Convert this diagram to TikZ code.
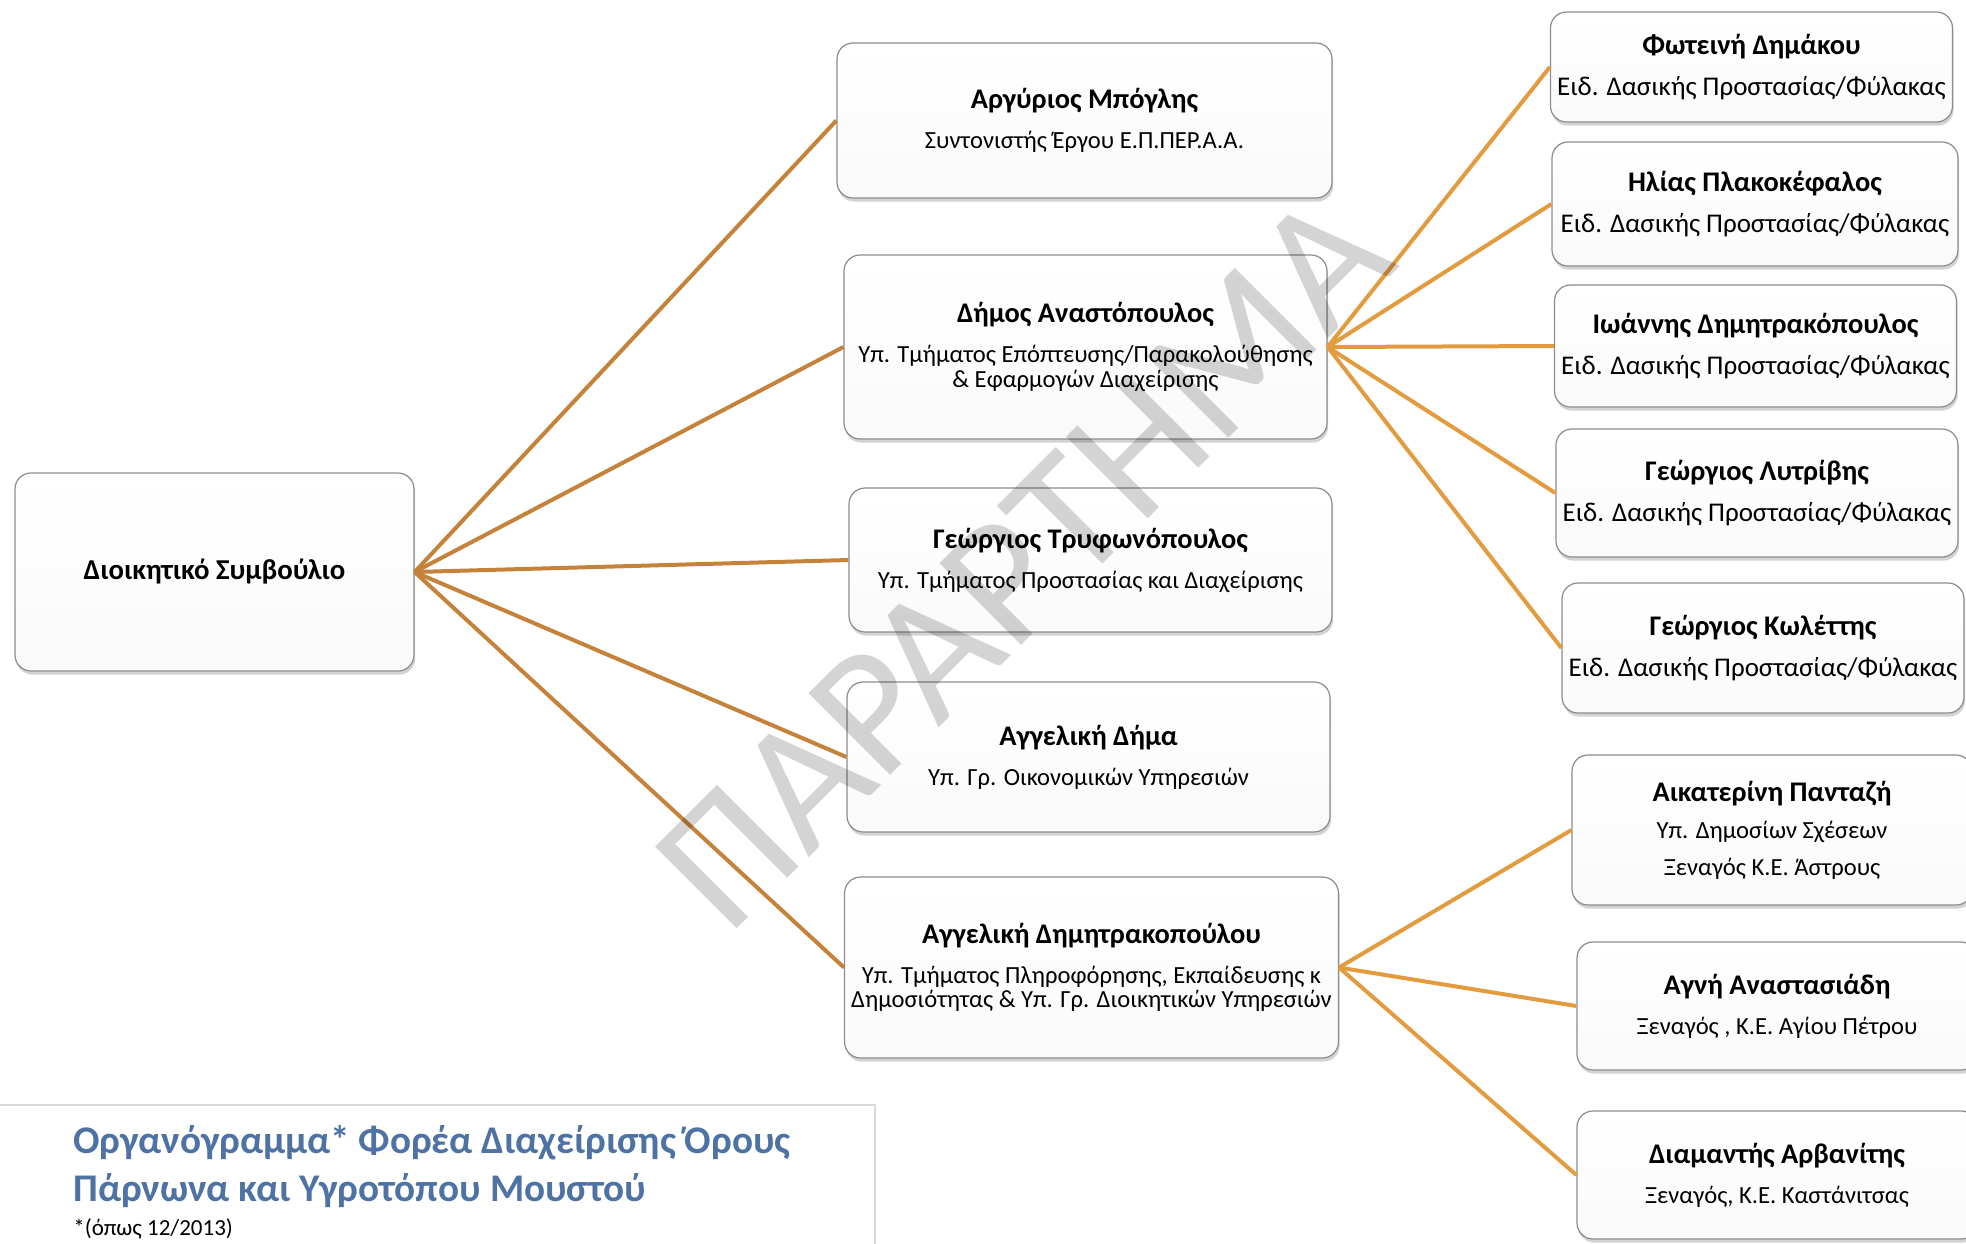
\documentclass[tikz,border=0pt]{standalone}
\usepackage{fontspec}
\setmainfont{Carlito}
\usetikzlibrary{shapes,shadows}
\definecolor{trunk}{HTML}{C4823A}
\definecolor{branch}{HTML}{E39B40}
\definecolor{titleblue}{HTML}{4E72A4}
\definecolor{boxgray}{HTML}{8C8C8C}
\definecolor{stampgray}{HTML}{D4D4D4}
\newcommand{\who}[1]{{\bfseries\fontsize{14.2}{17}\selectfont #1}}
\tikzstyle{person} = [rectangle, draw=boxgray, line width=0.6pt, top color=white,
    bottom color=black!2, rounded corners=8pt, align=center,
    font=\fontsize{12.3}{15}\selectfont,
    drop shadow={shadow xshift=0.6pt, shadow yshift=-1.8pt, opacity=0.35}]
\tikzstyle{guard} = [person, font=\fontsize{13.5}{16}\selectfont]
\tikzstyle{board} = [person, font=\bfseries\fontsize{14.4}{17}\selectfont]
\tikzstyle{trunkline} = [draw=trunk, line width=2pt]
\tikzstyle{branchline} = [draw=branch, line width=2pt]
\tikzstyle{heading} = [anchor=base west, inner sep=0pt, text=titleblue,
    font=\bfseries\fontsize{19.6}{24}\selectfont]

\begin{document}
\begin{tikzpicture}[x=0.5pt, y=-0.5pt]
 \useasboundingbox (0,0) rectangle (1966,1243);
 \node[board, minimum width=199.5pt, minimum height=99pt] (board) at (214.5,572) {Διοικητικό Συμβούλιο};
 % second level
 \node[person, minimum width=247.5pt, minimum height=77.5pt] (boglis) at (1084.5,120.5)
   {\who{Αργύριος Μπόγλης}\\[5pt] Συντονιστής Έργου Ε.Π.ΠΕΡ.Α.Α.};
 \node[person, minimum width=241.5pt, minimum height=92pt] (anastop) at (1085.5,347)
   {\who{Δήμος Αναστόπουλος}\\[5pt] Υπ. Τμήματος Επόπτευσης/Παρακολούθησης\\[-2.5pt] \& Εφαρμογών Διαχείρισης};
 \node[person, minimum width=241.5pt, minimum height=72pt] (tryfon) at (1090.5,560)
   {\who{Γεώργιος Τρυφωνόπουλος}\\[5pt] Υπ. Τμήματος Προστασίας και Διαχείρισης};
 \node[person, minimum width=241.5pt, minimum height=75pt] (dima) at (1088.5,757)
   {\who{Αγγελική Δήμα}\\[5pt] Υπ. Γρ. Οικονομικών Υπηρεσιών};
 \node[person, minimum width=246.5pt, minimum height=90.5pt] (dimitr) at (1091.5,967.5)
   {\who{Αγγελική Δημητρακοπούλου}\\[5pt] Υπ. Τμήματος Πληροφόρησης, Εκπαίδευσης κ\\[-3pt] Δημοσιότητας \& Υπ. Γρ. Διοικητικών Υπηρεσιών};
 % third level
 \node[guard, minimum width=199.5pt, minimum height=55pt] (dimakou) at (1751.5,67)
   {\who{Φωτεινή Δημάκου}\\[4.5pt] Ειδ. Δασικής Προστασίας/Φύλακας};
 \node[guard, minimum width=203pt, minimum height=62pt] (plakok) at (1755,204)
   {\who{Ηλίας Πλακοκέφαλος}\\[4.5pt] Ειδ. Δασικής Προστασίας/Φύλακας};
 \node[guard, minimum width=199.5pt, minimum height=61pt] (ioannis) at (1755.5,346)
   {\who{Ιωάννης Δημητρακόπουλος}\\[4.5pt] Ειδ. Δασικής Προστασίας/Φύλακας};
 \node[guard, minimum width=200pt, minimum height=64pt] (lytrivis) at (1757,493)
   {\who{Γεώργιος Λυτρίβης}\\[4.5pt] Ειδ. Δασικής Προστασίας/Φύλακας};
 \node[guard, minimum width=200pt, minimum height=65pt] (kolettis) at (1763,648)
   {\who{Γεώργιος Κωλέττης}\\[4.5pt] Ειδ. Δασικής Προστασίας/Φύλακας};
 \node[person, minimum width=200pt, minimum height=75pt] (pantazi) at (1772,830)
   {\who{Αικατερίνη Πανταζή}\\[3.5pt] Υπ. Δημοσίων Σχέσεων\\[3.5pt] Ξεναγός Κ.Ε. Άστρους};
 \node[person, minimum width=200pt, minimum height=64pt] (agni) at (1777,1006)
   {\who{Αγνή Αναστασιάδη}\\[5pt] Ξεναγός , Κ.Ε. Αγίου Πέτρου};
 \node[person, minimum width=200pt, minimum height=64pt] (arvan) at (1777,1175)
   {\who{Διαμαντής Αρβανίτης}\\[5pt] Ξεναγός, Κ.Ε. Καστάνιτσας};

 \path[trunkline] (board.east) -- (boglis.west);
 \path[trunkline] (board.east) -- (anastop.west);
 \path[trunkline] (board.east) -- (tryfon.west);
 \path[trunkline] (board.east) -- (dima.west);
 \path[trunkline] (board.east) -- (dimitr.west);
 \foreach \n in {dimakou,plakok,ioannis,lytrivis,kolettis}
   \path[branchline] (anastop.east) -- (\n.west);
 \foreach \n in {pantazi,agni,arvan}
   \path[branchline] (dimitr.east) -- (\n.west);

 % title block
 \draw[black!15, line width=1pt] (-5,1105) rectangle (875,1260);
 \node[heading] (title) at (73,1153) {Οργανόγραμμα* Φορέα Διαχείρισης Όρους};
 \node[heading] (subtitle) at (73,1201) {Πάρνωνα και Υγροτόπου Μουστού};
 \node[anchor=base west, inner sep=0pt, font=\fontsize{11.5}{14}\selectfont] (note) at (73,1235) {*(όπως 12/2013)};

 % watermark
 \begin{scope}[blend mode=multiply]
  \node[text=stampgray, rotate=45, font=\fontsize{90}{98}\selectfont, inner sep=0pt] (stamp) at (1024,561) {ΠΑΡΑΡΤΗΜΑ};
 \end{scope}
\end{tikzpicture}
\end{document}
